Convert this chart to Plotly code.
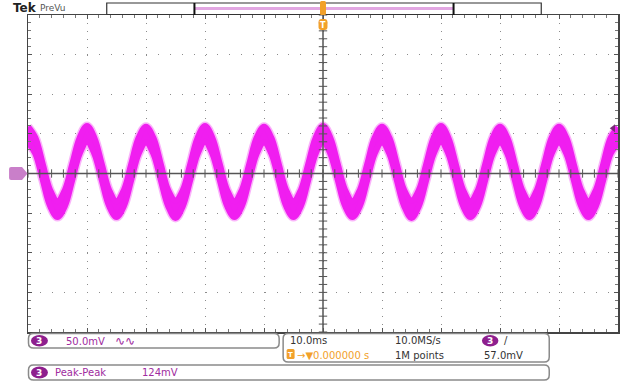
import numpy as np
import plotly.graph_objects as go

# ---------------- data ----------------
time_ms = [
    -50, -48.75, -47.5, -46.25, -45, -43.75, -42.5, -41.25,
    -40, -38.75, -37.5, -36.25, -35, -33.75, -32.5, -31.25,
    -30, -28.75, -27.5, -26.25, -25, -23.75, -22.5, -21.25,
    -20, -18.75, -17.5, -16.25, -15, -13.75, -12.5, -11.25,
    -10, -8.75, -7.5, -6.25, -5, -3.75, -2.5, -1.25,
    0, 1.25, 2.5, 3.75, 5, 6.25, 7.5, 8.75,
    10, 11.25, 12.5, 13.75, 15, 16.25, 17.5, 18.75,
    20, 21.25, 22.5, 23.75, 25, 26.25, 27.5, 28.75,
    30, 31.25, 32.5, 33.75, 35, 36.25, 37.5, 38.75,
    40, 41.25, 42.5, 43.75, 45, 46.25, 47.5, 48.75,
    50,
]
# upper / lower edge of the noisy trace band (mV)
upper_mV = [
    59, 45, 12, -21, -35, -21, 12, 45,
    60, 45, 12, -21, -35, -21, 12, 45,
    59, 45, 12, -21, -34, -21, 12, 45,
    60, 45, 12, -21, -35, -21, 12, 45,
    59, 45, 12, -21, -35, -21, 12, 45,
    60, 45, 12, -21, -35, -21, 12, 45,
    59, 45, 12, -21, -34, -21, 12, 45,
    60, 45, 12, -21, -35, -21, 12, 45,
    59, 45, 12, -21, -35, -21, 12, 45,
    59, 45, 12, -21, -35, -21, 12, 45,
    58,
]
lower_mV = [
    39, 25, -8, -41, -55, -41, -8, 25,
    40, 25, -8, -41, -55, -41, -8, 25,
    39, 25, -8, -41, -56, -41, -8, 25,
    40, 25, -8, -41, -55, -41, -8, 25,
    39, 25, -8, -41, -55, -41, -8, 25,
    40, 25, -8, -41, -55, -41, -8, 25,
    39, 25, -8, -41, -56, -41, -8, 25,
    40, 25, -8, -41, -55, -41, -8, 25,
    39, 25, -8, -41, -55, -41, -8, 25,
    39, 25, -8, -41, -55, -41, -8, 25,
    38,
]
trigger_level_mV = 57.0
time_per_div_ms = 10
volts_per_div_mV = 50
x_range_ms = [-50, 50]
y_range_mV = [-200, 200]

ch_label = "3"
scale_text = "50.0mV"
timebase_text = "10.0ms"
sample_rate_text = "10.0MS/s"
record_text = "1M points"
trig_level_text = "57.0mV"
trig_pos_text = "\u2192\u25bc0.000000 s"
meas_name = "Peak-Peak"
meas_value = "124mV"

# ---------------- styling ----------------
MAG = "#F01EF0"
MAG_HALO = "rgba(240,40,240,0.35)"
PURPLE = "#8E1F8E"
PTEXT = "#A02CA0"
ORANGE = "#F2A12A"
DARK = "#333333"
FONT = "DejaVu Sans"

W, H = 625, 382
L, R, T, B = 28, 620, 15, 332


def px(x):
    return (x - L) / (R - L)


def py(y):
    return (B - y) / (B - T)


def rrect(x0, y0, x1, y1, r):
    pts = [
        ("M", x0 + r, y0), ("L", x1 - r, y0), ("Q", x1, y0, x1, y0 + r),
        ("L", x1, y1 - r), ("Q", x1, y1, x1 - r, y1), ("L", x0 + r, y1),
        ("Q", x0, y1, x0, y1 - r), ("L", x0, y0 + r), ("Q", x0, y0, x0 + r, y0),
    ]
    s = ""
    for p in pts:
        if p[0] == "Q":
            s += f"Q{px(p[1]):.5f},{py(p[2]):.5f} {px(p[3]):.5f},{py(p[4]):.5f} "
        else:
            s += f"{p[0]}{px(p[1]):.5f},{py(p[2]):.5f} "
    return s + "Z"


fig = go.Figure()

# center-line tick marks
xt = np.arange(x_range_ms[0], x_range_ms[1] + 0.01, time_per_div_ms / 5)
yt = np.arange(y_range_mV[0], y_range_mV[1] + 0.01, volts_per_div_mV / 5)

# faint fuzzy halo of the noisy trace
for edge in (upper_mV, lower_mV):
    fig.add_trace(go.Scatter(x=time_ms, y=edge, mode="lines",
                             line=dict(color=MAG_HALO, width=9, shape="spline"),
                             hoverinfo="skip"))
# trace band
fig.add_trace(go.Scatter(x=time_ms, y=upper_mV, mode="lines",
                         line=dict(color=MAG, width=6, shape="spline"),
                         hoverinfo="skip"))
fig.add_trace(go.Scatter(x=time_ms, y=lower_mV, mode="lines", fill="tonexty",
                         fillcolor=MAG,
                         line=dict(color=MAG, width=6, shape="spline"),
                         hoverinfo="skip"))

fig.add_trace(go.Scatter(x=xt, y=[0] * len(xt), mode="markers",
                         marker=dict(symbol="line-ns", size=6,
                                     line=dict(color="#555", width=1)),
                         hoverinfo="skip"))
fig.add_trace(go.Scatter(x=[0] * len(yt), y=yt, mode="markers",
                         marker=dict(symbol="line-ew", size=6,
                                     line=dict(color="#555", width=1)),
                         hoverinfo="skip"))
# trigger level marker on right edge
fig.add_trace(go.Scatter(x=[x_range_ms[1] - 0.8], y=[trigger_level_mV], mode="markers",
                         marker=dict(symbol="triangle-left", size=7, color="#7A2A7A"),
                         cliponaxis=False, hoverinfo="skip"))

fig.update_layout(
    width=W, height=H,
    margin=dict(l=L, r=W - R, t=T, b=H - B),
    paper_bgcolor="white", plot_bgcolor="white",
    showlegend=False,
    font=dict(family=FONT, size=10, color=DARK),
)
fig.update_xaxes(range=x_range_ms, dtick=time_per_div_ms, tick0=0,
                 showgrid=True, gridcolor="#8c8c8c", gridwidth=1,
                 griddash="1px,6.92px", zeroline=False,
                 showline=True, linecolor="#444", linewidth=1.5, mirror="ticks",
                 ticks="inside", ticklen=4, tickcolor="#555",
                 minor=dict(dtick=time_per_div_ms / 5, ticks="inside", ticklen=3,
                            tickcolor="#777", showgrid=False),
                 showticklabels=False, fixedrange=True)
fig.update_yaxes(range=y_range_mV, dtick=volts_per_div_mV, tick0=0,
                 showgrid=True, gridcolor="#8c8c8c", gridwidth=1,
                 griddash="1px,10.84px", zeroline=False,
                 showline=True, linecolor="#444", linewidth=1.5, mirror="ticks",
                 ticks="inside", ticklen=4, tickcolor="#555",
                 minor=dict(dtick=volts_per_div_mV / 5, ticks="inside", ticklen=3,
                            tickcolor="#777", showgrid=False),
                 showticklabels=False, fixedrange=True)

shapes = []
# center cross lines
shapes.append(dict(type="line", xref="x", yref="y", x0=0, x1=0,
                   y0=y_range_mV[0], y1=y_range_mV[1],
                   line=dict(color="#555", width=1.5)))
shapes.append(dict(type="line", xref="x", yref="y", y0=0, y1=0,
                   x0=x_range_ms[0], x1=x_range_ms[1],
                   line=dict(color="#555", width=1.5)))

# record (PreVu) bar
shapes.append(dict(type="rect", xref="paper", yref="paper",
                   x0=px(107), x1=px(543), y0=py(14.5), y1=py(3),
                   line=dict(color="#333", width=1.2), fillcolor="white"))
shapes.append(dict(type="line", xref="paper", yref="paper",
                   x0=px(195), x1=px(455), y0=py(8.5), y1=py(8.5),
                   line=dict(color="#E2A6E2", width=3)))
for xx in (195, 455):
    shapes.append(dict(type="line", xref="paper", yref="paper",
                       x0=px(xx), x1=px(xx), y0=py(3), y1=py(15),
                       line=dict(color="#111", width=2)))
# trigger position markers (top)
shapes.append(dict(type="path", xref="paper", yref="paper",
                   path=rrect(321, 1, 327, 15, 1.5), fillcolor=ORANGE,
                   line=dict(width=0)))
shapes.append(dict(type="path", xref="paper", yref="paper",
                   path=rrect(319.5, 19, 328.5, 30, 3), fillcolor=ORANGE,
                   line=dict(width=0)))

# ground marker on left
gp = (f"M{px(11):.5f},{py(167):.5f} L{px(22):.5f},{py(167):.5f} "
      f"L{px(27.5):.5f},{py(173.5):.5f} L{px(22):.5f},{py(180):.5f} "
      f"L{px(11):.5f},{py(180):.5f} Q{px(9):.5f},{py(180):.5f} {px(9):.5f},{py(178):.5f} "
      f"L{px(9):.5f},{py(169):.5f} Q{px(9):.5f},{py(167):.5f} {px(11):.5f},{py(167):.5f} Z")
shapes.append(dict(type="path", xref="paper", yref="paper", path=gp,
                   fillcolor="#C97FC9", line=dict(width=0)))

# bottom readout boxes
box_line = dict(color="#8a8a8a", width=1.5)
shapes.append(dict(type="path", xref="paper", yref="paper",
                   path=rrect(28.5, 333.5, 280, 348, 5), line=box_line))
shapes.append(dict(type="path", xref="paper", yref="paper",
                   path=rrect(284, 333.5, 551, 362, 5), line=box_line))
shapes.append(dict(type="path", xref="paper", yref="paper",
                   path=rrect(28.5, 365, 551, 380, 5), line=box_line))
# channel badges
for (x0, y0, x1, y1) in [(31, 335, 48, 346.5), (483.5, 335, 500, 346.5), (31, 366.5, 48, 378.5)]:
    shapes.append(dict(type="circle", xref="paper", yref="paper",
                       x0=px(x0), x1=px(x1), y0=py(y1), y1=py(y0),
                       fillcolor=PURPLE, line=dict(width=0)))
# orange T badge in readout
shapes.append(dict(type="path", xref="paper", yref="paper",
                   path=rrect(287.5, 349, 295.5, 359, 1.5), fillcolor=ORANGE,
                   line=dict(width=0)))
fig.update_layout(shapes=shapes)


def txt(x, y, s, color=DARK, size=10, anchor="left", bold=False, family=FONT):
    fig.add_annotation(x=px(x), y=py(y), xref="paper", yref="paper",
                       text=(f"<b>{s}</b>" if bold else s), showarrow=False,
                       xanchor=anchor, yanchor="middle",
                       font=dict(color=color, size=size, family=family))


txt(11, 8.5, "Tek", color="#222", size=12, bold=True)
txt(38, 8, "PreVu", color="#555", size=9)
txt(324, 25, "T", color="white", size=8, anchor="center", bold=True)

txt(39.5, 341, ch_label, color="white", size=9, anchor="center", bold=True)
txt(64, 341, scale_text, color=PTEXT, size=10)
txt(113, 340.5, "\u223f\u223f", color=PTEXT, size=12)

txt(289, 340.5, timebase_text, color=DARK, size=10)
txt(394, 340.5, sample_rate_text, color=DARK, size=10)
txt(491.8, 341, ch_label, color="white", size=9, anchor="center", bold=True)
txt(504, 340.5, "/", color=DARK, size=10)
txt(291.5, 354.5, "T", color="white", size=7, anchor="center", bold=True)
txt(296, 355, trig_pos_text, color=ORANGE, size=10)
txt(394, 355, record_text, color=DARK, size=10)
txt(484, 355, trig_level_text, color=DARK, size=10)

txt(39.5, 372.5, ch_label, color="white", size=9, anchor="center", bold=True)
txt(53, 372.5, meas_name, color=PTEXT, size=10)
txt(140, 372.5, meas_value, color=PTEXT, size=10)

fig.write_html("out.html",
               config={"displayModeBar": False, "staticPlot": True},
               post_script="document.body.style.margin='0px';"
                           "document.body.style.overflow='hidden';")
